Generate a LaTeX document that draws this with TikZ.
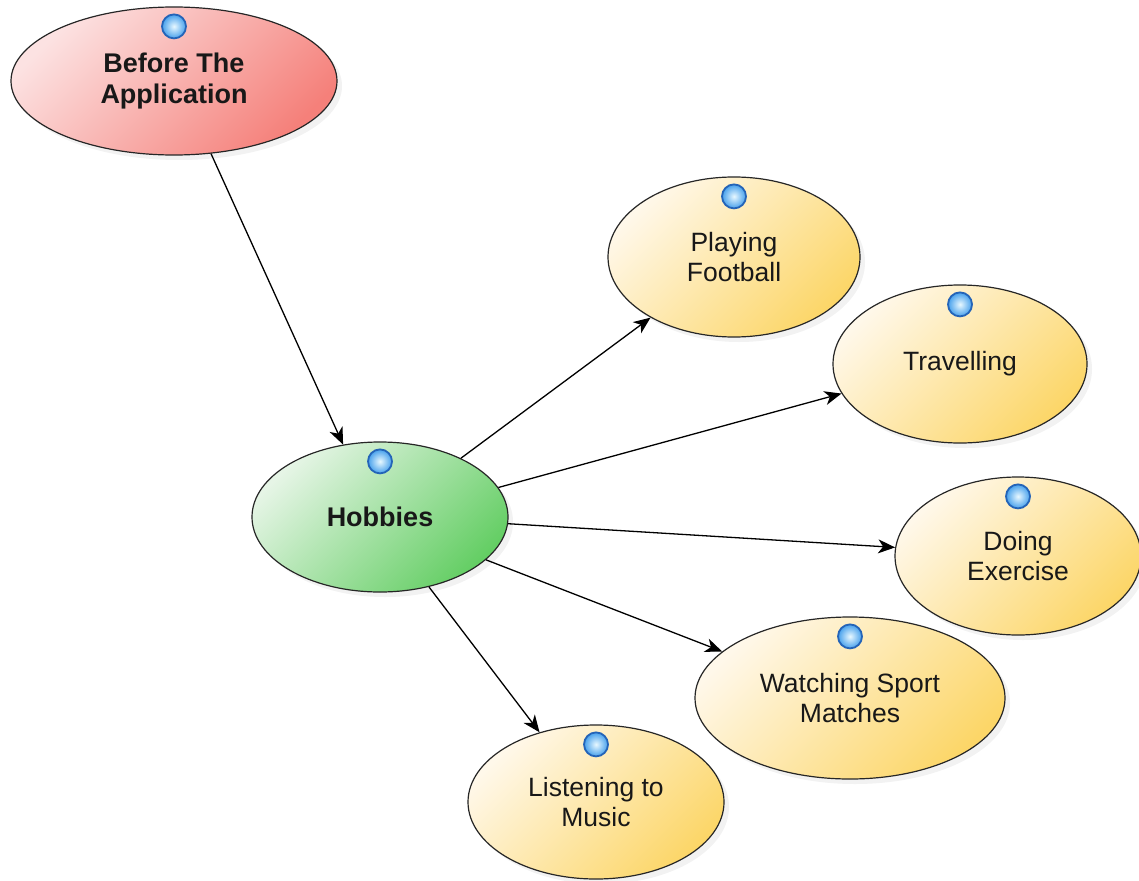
\documentclass[tikz,border=0pt]{standalone}
\usepackage{fontspec}
\setmainfont{Liberation Sans}
\usetikzlibrary{shapes.geometric,arrows.meta,shadows}

\definecolor{redlight}{RGB}{252,226,226}
\definecolor{reddark}{RGB}{245,128,122}
\definecolor{greenlight}{RGB}{230,245,230}
\definecolor{greendark}{RGB}{100,206,100}
\definecolor{yellowlight}{RGB}{255,248,234}
\definecolor{yellowdark}{RGB}{252,214,104}
\definecolor{dotrim}{RGB}{36,100,184}
\definecolor{dotinner}{RGB}{232,248,255}
\definecolor{dotouter}{RGB}{70,160,236}
\definecolor{inktext}{RGB}{24,24,24}

\tikzset{
  bubble/.style={ellipse, draw=black!85, line width=1.2pt, inner sep=0pt,
    align=center, text=inktext, font=\fontsize{26.5}{30}\selectfont,
    drop shadow={opacity=0.10, shadow xshift=5pt, shadow yshift=-5pt}},
  rootbub/.style={bubble, top color=redlight, bottom color=reddark, shading angle=45},
  hubbub/.style={bubble, top color=greenlight, bottom color=greendark, shading angle=45},
  leafbub/.style={bubble, top color=yellowlight, bottom color=yellowdark, shading angle=45},
  boldtext/.style={font=\fontsize{27}{31}\selectfont\bfseries},
  dot/.style={circle, minimum size=24pt, inner sep=0pt, draw=dotrim, line width=1.8pt,
    inner color=dotinner, outer color=dotouter},
  conn/.style={-{Stealth[length=17pt,width=14pt,inset=5pt]}, line width=1.3pt, black}
}

\begin{document}
\begin{tikzpicture}[x=1pt,y=-1pt]
  % canvas
  \fill[white] (0,0) rectangle (1139,880);
  \useasboundingbox (0,0) rectangle (1139,880);

  % bubbles
  \node[rootbub, boldtext, minimum width=326pt, minimum height=148pt] (before) at (174,81) {Before The\\Application};
  \node[hubbub, boldtext, minimum width=256pt, minimum height=150pt] (hobbies) at (380,517) {Hobbies};
  \node[leafbub, minimum width=252pt, minimum height=160pt] (football) at (734,257) {Playing\\Football};
  \node[leafbub, minimum width=254pt, minimum height=158pt] (travel) at (960,364) {Travelling};
  \node[leafbub, minimum width=246pt, minimum height=158pt] (exercise) at (1018,556) {Doing\\Exercise};
  \node[leafbub, minimum width=310pt, minimum height=162pt] (sport) at (850,698) {Watching Sport\\Matches};
  \node[leafbub, minimum width=256pt, minimum height=154pt] (music) at (596,802) {Listening to\\Music};

  % blue markers near the top of each bubble
  \foreach \n in {before,hobbies,football,travel,exercise,sport,music}
    \node[dot] (\n-dot) at ([yshift=-20pt]\n.north) {};

  % connectors
  \draw[conn] (before.-63) -- (hobbies.117);
  \draw[conn] (hobbies.36.5) -- (football.216);
  \draw[conn] (hobbies.14) -- (travel.194.7);
  \draw[conn] (hobbies.-3.6) -- (exercise.176);
  \draw[conn] (hobbies.-22) -- (sport.160.5);
  \draw[conn] (hobbies.-55) -- (music.129);
\end{tikzpicture}
\end{document}
